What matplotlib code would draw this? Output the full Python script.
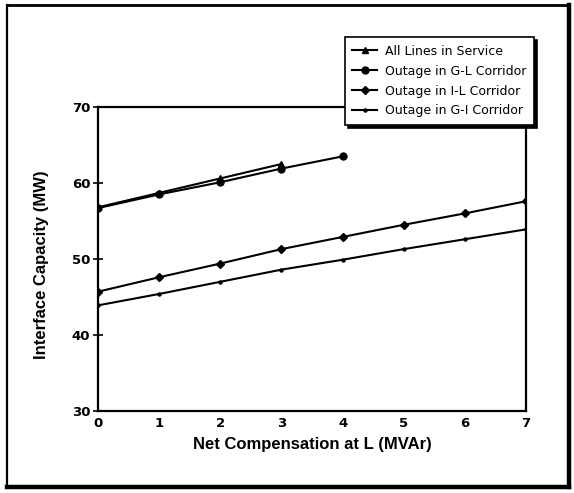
import numpy as np
import matplotlib
matplotlib.use('Agg')
import matplotlib.pyplot as plt
from matplotlib.lines import Line2D

# --- data ---
comp_all = [0, 1, 2, 3]
cap_all = [56.8, 58.7, 60.6, 62.5]

comp_gl = [0, 1, 2, 3, 4]
cap_gl = [56.7, 58.5, 60.1, 61.9, 63.5]

comp_il = [0, 1, 2, 3, 4, 5, 6, 7]
cap_il = [45.7, 47.6, 49.4, 51.3, 52.9, 54.5, 56.0, 57.6]

comp_gi = [0, 1, 2, 3, 4, 5, 6, 7]
cap_gi = [43.9, 45.4, 47.0, 48.6, 49.9, 51.3, 52.6, 53.9]

labels = ['All Lines in Service', 'Outage in G-L Corridor',
          'Outage in I-L Corridor', 'Outage in G-I Corridor']
x_ticks = [0, 1, 2, 3, 4, 5, 6, 7]
y_ticks = [30, 40, 50, 60, 70]

# --- style ---
plt.rcParams['font.family'] = ['DejaVu Sans']
label_font = ['Liberation Sans Narrow', 'Liberation Sans', 'DejaVu Sans']

fig = plt.figure(figsize=(5.74, 4.93), dpi=100)
ax = fig.add_axes([98 / 574, 1 - 411 / 493, 428 / 574, 304 / 493])

ax.plot(comp_all, cap_all, '-^', color='black', lw=1.5, ms=5, label=labels[0])
ax.plot(comp_gl, cap_gl, '-o', color='black', lw=1.5, ms=5, label=labels[1])
ax.plot(comp_il, cap_il, '-D', color='black', lw=1.5, ms=4.5, label=labels[2])
ax.plot(comp_gi, cap_gi, '-o', color='black', lw=1.5, ms=2.2, label=labels[3])

ax.set_xlim(0, 7)
ax.set_ylim(30, 70)
ax.set_xticks(x_ticks)
ax.set_yticks(y_ticks)
ax.tick_params(axis='x', length=0, pad=4, labelsize=9.5)
ax.tick_params(axis='y', direction='inout', length=7, width=1.2, pad=2, labelsize=9.5)
for t in ax.get_xticklabels() + ax.get_yticklabels():
    t.set_fontweight('semibold')
for s in ax.spines.values():
    s.set_linewidth(1.6)

ax.set_xlabel('Net Compensation at L (MVAr)', family=label_font,
              fontweight='bold', fontsize=12, labelpad=5)
ax.set_ylabel('Interface Capacity (MW)', family=label_font,
              fontweight='bold', fontsize=12)
ax.yaxis.set_label_coords(-0.115, 0.48)

# legend sits over the top-right corner of the axes
handles, _ = ax.get_legend_handles_labels()
leg = fig.legend(handles, labels, loc='upper right',
                 bbox_to_anchor=(540 / 574, 1 - 31 / 493),
                 bbox_transform=fig.transFigure,
                 fancybox=False, framealpha=1, edgecolor='black',
                 shadow={'color': 'black', 'alpha': 1},
                 fontsize=9, handlelength=2.0, handletextpad=0.6,
                 labelspacing=0.55, borderpad=0.6)
leg.get_frame().set_linewidth(1.2)

# outer frame with heavier right/bottom edge
x0, x1 = 7 / 574, 569 / 574
y0, y1 = 1 - 487 / 493, 1 - 5 / 493
fig.add_artist(Line2D([x0, x0], [y0, y1], color='black', lw=1.6, transform=fig.transFigure))
fig.add_artist(Line2D([x0, x1], [y1, y1], color='black', lw=2.0, transform=fig.transFigure))
fig.add_artist(Line2D([x1, x1], [y0, y1], color='black', lw=3.2, transform=fig.transFigure))
fig.add_artist(Line2D([x0, x1], [y0, y0], color='black', lw=3.2, transform=fig.transFigure))

fig.savefig('out.png', dpi=100)
